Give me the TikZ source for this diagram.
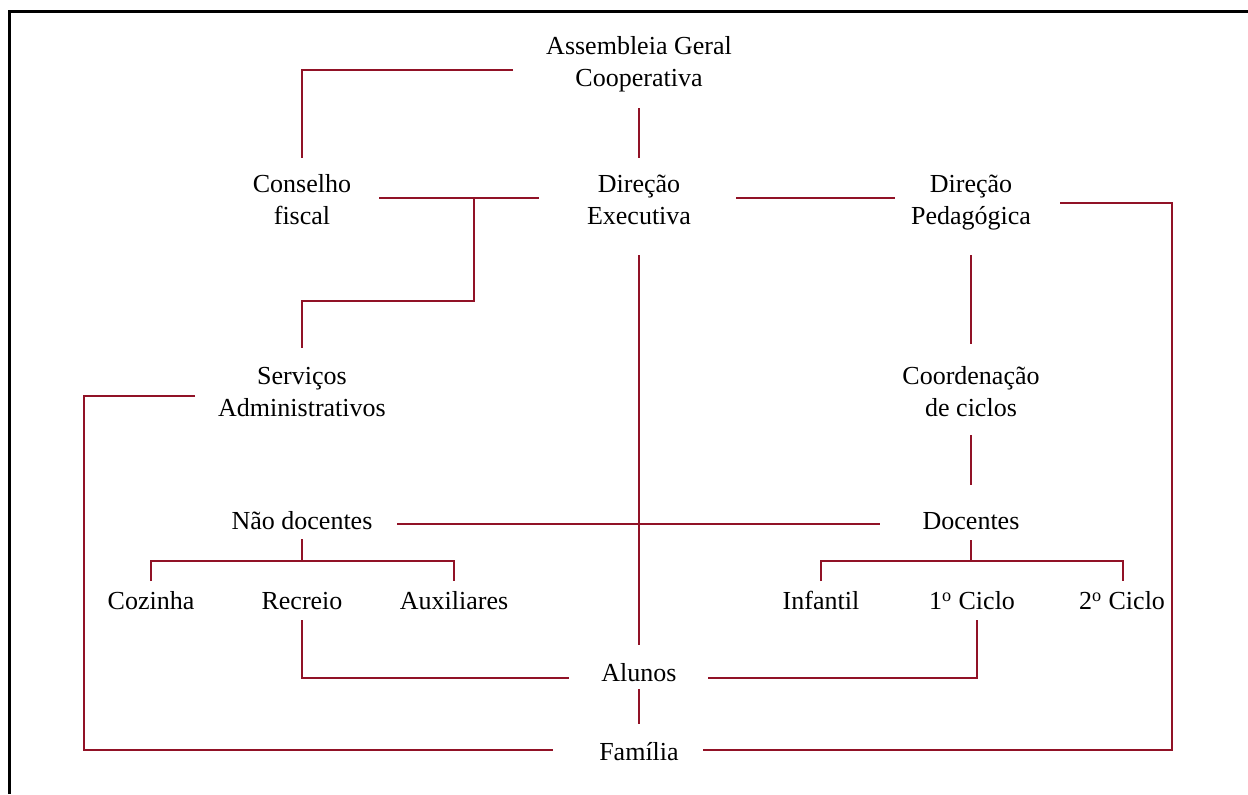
\documentclass[tikz,border=0pt]{standalone}
\usepackage{fontspec}
\setmainfont{Liberation Serif}
\usepackage{tikz}
\usetikzlibrary{calc}
\usepackage{xcolor}
\definecolor{orgred}{RGB}{145,18,38}

\tikzset{
  unit/.style={align=center,inner sep=0pt,font=\fontsize{13}{16}\selectfont},
  link/.style={draw=orgred,line width=1.4pt},
  thinlink/.style={draw=orgred,line width=0.6pt}
}

\begin{document}
\begin{tikzpicture}[x=0.5pt,y=-0.5pt]
                    \useasboundingbox (0,0) rectangle (1248,794);
                    \draw[black,line width=1.5pt] (9,794) -- (9,11) -- (1248,11);
                    % units
                    \node[unit] (asm) at (639,64) {Assembleia Geral\\Cooperativa};
                    \node[unit] (cfis) at (302,200) {Conselho\\fiscal};
                    \node[unit] (dexec) at (639,200) {Direção\\Executiva};
                    \node[unit] (dped) at (971,203) {Direção\\Pedagógica};
                    \node[unit] (sadm) at (302,392) {Serviços\\Administrativos};
                    \node[unit] (coord) at (971,392) {Coordenação\\de ciclos};
                    \node[unit] (ndoc) at (302,521) {Não docentes};
                    \node[unit] (doc) at (971,521) {Docentes};
                    \node[unit] (coz) at (151,601) {Cozinha};
                    \node[unit] (rec) at (302,601) {Recreio};
                    \node[unit] (aux) at (454,601) {Auxiliares};
                    \node[unit] (inf) at (821,600) {Infantil};
                    \node[unit] (ciclo1) at (972,601) {1\textsuperscript{o} Ciclo};
                    \node[unit] (ciclo2) at (1122,601) {2\textsuperscript{o} Ciclo};
                    \node[unit] (alunos) at (639,673) {Alunos};
                    \node[unit] (familia) at (639,752) {Família};
                    % line ends
                    \coordinate (asm-w) at (513,70);
                    \coordinate (asm-s) at (639,108);
                    \coordinate (cfis-n) at (302,158);
                    \coordinate (cfis-e) at (379,198);
                    \coordinate (cfis-b) at (474,198);
                    \coordinate (dexec-n) at (639,158);
                    \coordinate (dexec-w) at (539,198);
                    \coordinate (dexec-e) at (736,198);
                    \coordinate (dexec-s) at (639,255);
                    \coordinate (dped-w) at (895,198);
                    \coordinate (dped-e) at (1060,203);
                    \coordinate (dped-s) at (971,255);
                    \coordinate (sadm-n) at (302,348);
                    \coordinate (sadm-w) at (195,396);
                    \coordinate (coord-n) at (971,344);
                    \coordinate (coord-s) at (971,435);
                    \coordinate (ndoc-e) at (397,524);
                    \coordinate (ndoc-s) at (302,539);
                    \coordinate (doc-w) at (880,524);
                    \coordinate (doc-n) at (971,485);
                    \coordinate (doc-s) at (971,540);
                    \coordinate (coz-n) at (151,581);
                    \coordinate (aux-n) at (454,581);
                    \coordinate (rec-s) at (302,620);
                    \coordinate (inf-n) at (821,581);
                    \coordinate (ciclo2-n) at (1123,581);
                    \coordinate (ciclo1-s) at (977,620);
                    \coordinate (alunos-n) at (639,645);
                    \coordinate (alunos-w) at (569,678);
                    \coordinate (alunos-e) at (708,678);
                    \coordinate (alunos-s) at (639,689);
                    \coordinate (familia-n) at (639,724);
                    \coordinate (familia-w) at (553,750);
                    \coordinate (familia-e) at (703,750);
                    % connectors
                    \draw[link] (asm-w) -| (cfis-n);
                    \draw[link] (asm-s) -- (dexec-n);
                    \draw[link] (cfis-e) -- (dexec-w);
                    \draw[link] (cfis-b) -- ++(0,103) -| (sadm-n);
                    \draw[link] (dexec-e) -- (dped-w);
                    \draw[link] (dped-e) -- ++(112,0) |- (familia-e);
                    \draw[link] (dped-s) -- (coord-n);
                    \draw[link] (coord-s) -- (doc-n);
                    \draw[link] (dexec-s) -- (alunos-n);
                    \draw[link] (ndoc-e) -- (doc-w);
                    \draw[link] (sadm-w) -- ++(-111,0) |- (familia-w);
                    \draw[link] (ndoc-s) -- ++(0,22);
                    \draw[link] (coz-n) -- ++(0,-20) -| (aux-n);
                    \draw[link] (doc-s) -- ++(0,21);
                    \draw[link] (inf-n) -- ++(0,-20) -| (ciclo2-n);
                    \draw[link] (rec-s) |- (alunos-w);
                    \draw[link] (ciclo1-s) |- (alunos-e);
                    \draw[thinlink] (alunos-s) -- (familia-n);
                \end{tikzpicture}
\end{document}
